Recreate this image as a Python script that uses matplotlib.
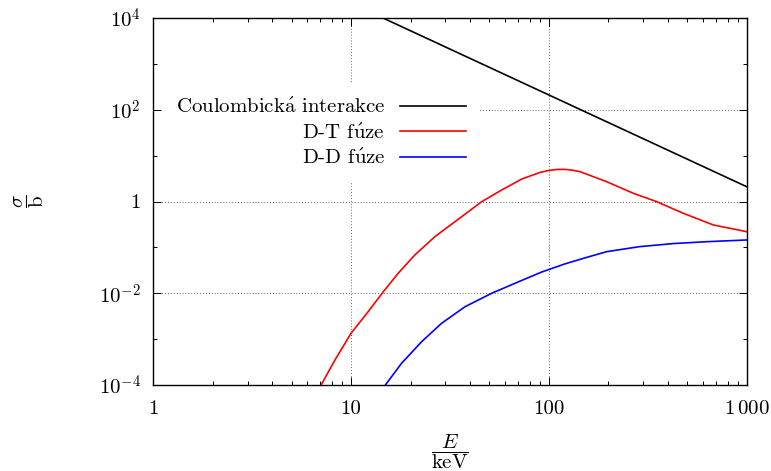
import matplotlib
matplotlib.use("Agg")
import matplotlib.pyplot as plt
from matplotlib.ticker import FixedLocator, NullFormatter

# ---- data ----
E_coul = [10, 20, 50, 100, 200, 500, 1000]
sig_coul = [2.1e4, 5250, 840, 210, 52.5, 8.4, 2.1]

E_dt = [7.05, 8.29, 10.0, 12.2, 14.55, 17.3, 21.0, 26.5, 33.5, 45.7, 57.7, 72.9,
        90.1, 100.0, 110.0, 121.0, 130.0, 143.8, 196, 267, 351, 478, 678, 1000]
sig_dt = [1e-4, 3.52e-4, 1.35e-3, 3.97e-3, 0.0108, 0.0273, 0.0683, 0.171, 0.363,
          0.99, 1.78, 3.09, 4.3, 4.75, 5.0, 5.0, 4.85, 4.46, 2.70, 1.51, 0.99,
          0.553, 0.308, 0.22]

E_dd = [14.9, 18.0, 22.75, 28.7, 37.7, 51.4, 67.4, 91.9, 120.6, 150, 196, 286, 425, 628, 1000]
sig_dd = [1e-4, 2.98e-4, 8.83e-4, 2.22e-3, 5.1e-3, 0.01, 0.0165, 0.0290, 0.0437,
          0.058, 0.0806, 0.1035, 0.121, 0.133, 0.145]

labels = [r"Coulombick$\acute{\mathrm{a}}$ interakce", r"D-T f$\acute{\mathrm{u}}$ze",
          r"D-D f$\acute{\mathrm{u}}$ze"]
colors = ["black", "red", "blue"]

x_ticks = [1, 10, 100, 1000]
x_ticklabels = ["1", "10", "100", r"$1\,000$"]
y_ticks = [1e-4, 1e-2, 1, 1e2, 1e4]
y_ticklabels = [r"$10^{-4}$", r"$10^{-2}$", "1", r"$10^{2}$", r"$10^{4}$"]

plt.rcParams["font.family"] = ["cmr10", "DejaVu Serif"]
plt.rcParams["mathtext.fontset"] = "cm"
plt.rcParams["axes.unicode_minus"] = False

fig = plt.figure(figsize=(7.71, 4.71), dpi=100)
ax = fig.add_axes([153.3 / 771, 1 - 385 / 471, (746.7 - 153.3) / 771, (385 - 18) / 471])

ax.plot(E_coul, sig_coul, color=colors[0], lw=1.2, label=labels[0])
ax.plot(E_dt, sig_dt, color=colors[1], lw=1.2, label=labels[1])
ax.plot(E_dd, sig_dd, color=colors[2], lw=1.2, label=labels[2])

ax.set_xscale("log")
ax.set_yscale("log")
ax.set_xlim(1, 1000)
ax.set_ylim(1e-4, 1e4)

ax.xaxis.set_major_locator(FixedLocator(x_ticks))
ax.set_xticklabels(x_ticklabels)
ax.xaxis.set_minor_locator(FixedLocator([m * 10 ** d for d in range(3) for m in range(2, 10)]))
ax.xaxis.set_minor_formatter(NullFormatter())
ax.yaxis.set_major_locator(FixedLocator(y_ticks))
ax.set_yticklabels(y_ticklabels)
ax.yaxis.set_minor_locator(FixedLocator([1e-3, 1e-1, 1e1, 1e3]))
ax.yaxis.set_minor_formatter(NullFormatter())

ax.tick_params(which="both", direction="in", top=True, right=True, labelsize=15, width=0.7, colors="black")
ax.tick_params(which="major", length=6, pad=9)
ax.tick_params(axis="x", which="major", pad=11)
ax.tick_params(which="minor", length=3)
for s in ax.spines.values():
    s.set_linewidth(1.0)

ax.grid(True, which="major", color="#333333", lw=0.6, linestyle=(0, (1, 2.5)))

ax.set_xlabel(r"$\dfrac{E}{\mathrm{keV}}$", fontsize=15, labelpad=10)
ax.set_ylabel(r"$\dfrac{\sigma}{\mathrm{b}}$", fontsize=15, labelpad=38)

leg = ax.legend(loc="upper right", bbox_to_anchor=(480 / 771, 1 - 84 / 471),
                bbox_transform=fig.transFigure, markerfirst=False, fontsize=15,
                handlelength=3.2, handletextpad=0.7, labelspacing=0.3,
                borderpad=0.65, fancybox=False, framealpha=1.0, borderaxespad=0)
leg.get_frame().set_edgecolor("none")
leg.get_frame().set_facecolor("white")

fig.savefig("out.png", dpi=100)
